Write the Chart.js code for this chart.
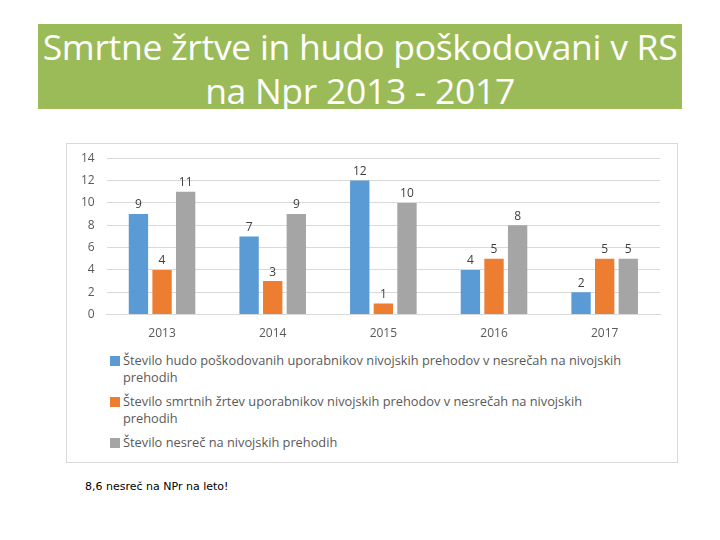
<!DOCTYPE html>
<html>
<head>
<meta charset="utf-8">
<script src="https://cdn.jsdelivr.net/npm/chart.js@4"></script>
<style>
  body { margin: 0; width: 720px; height: 540px; background: #fff; position: relative; font-family: "Open Sans", sans-serif; }
  #title { position: absolute; left: 38px; top: 24px; width: 644px; height: 85px; background: #9bbb59; color: #fff;
    font-family: "Open Sans", sans-serif; font-size: 35.5px; line-height: 44px; text-align: center; padding-top: 0; box-sizing: border-box; letter-spacing: -0.3px; white-space: nowrap; }
  #box { position: absolute; left: 66px; top: 143px; width: 612px; height: 320px; border: 1px solid #d9d9d9; box-sizing: border-box; }
  #wrap { position: absolute; left: 0; top: -5px; width: 610px; height: 206px; }
  #legend { position: absolute; left: 43px; top: 208px; width: 518px; font-size: 12.8px; color: #595959; line-height: 17px; }
  .item { position: relative; padding-left: 13px; margin-bottom: 7px; }
  .sw { position: absolute; left: 0; top: 4px; width: 10px; height: 10px; }
  #note { position: absolute; left: 85px; top: 480px; font-family: "DejaVu Sans", sans-serif; font-size: 11px; color: #000; }
</style>
</head>
<body>
<div id="title">Smrtne žrtve in hudo poškodovani v RS<br>na Npr 2013 - 2017</div>
<div id="box">
  <div id="wrap"><canvas id="chart"></canvas></div>
  <div id="legend"></div>
</div>
<div id="note">8,6 nesreč na NPr na leto!</div>
<script>
const years = ["2013", "2014", "2015", "2016", "2017"];
const injured = [9, 7, 12, 4, 2];
const killed = [4, 3, 1, 5, 5];
const accidents = [11, 9, 10, 8, 5];
const seriesNames = [
  "Število hudo poškodovanih uporabnikov nivojskih prehodov v nesrečah na nivojskih prehodih",
  "Število smrtnih žrtev uporabnikov nivojskih prehodov v nesrečah na nivojskih prehodih",
  "Število nesreč na nivojskih prehodih"
];
const yTicks = [0, 2, 4, 6, 8, 10, 12, 14];
const colors = ["#5b9bd5", "#ed7d31", "#a5a5a5"];

// values above the bars
const barValues = {
  id: "barValues",
  afterDatasetsDraw(chart) {
    const ctx = chart.ctx;
    ctx.save();
    ctx.font = "12px 'Open Sans', sans-serif";
    ctx.fillStyle = "#404040";
    ctx.textAlign = "center";
    ctx.textBaseline = "bottom";
    chart.data.datasets.forEach((ds, i) => {
      chart.getDatasetMeta(i).data.forEach((bar, j) => {
        ctx.fillText(ds.data[j], bar.x, bar.y - 3);
      });
    });
    ctx.restore();
  }
};

const chart = new Chart(document.getElementById("chart"), {
  type: "bar",
  data: {
    labels: years,
    datasets: [injured, killed, accidents].map((d, i) => ({
      label: seriesNames[i],
      data: d,
      backgroundColor: colors[i],
      barPercentage: 0.82,
      categoryPercentage: 0.64
    }))
  },
  options: {
    responsive: true,
    maintainAspectRatio: false,
    animation: false,
    layout: { padding: { left: 2, right: 17, top: 7, bottom: 0 } },
    plugins: { legend: { display: false }, tooltip: { enabled: false } },
    scales: {
      x: {
        grid: { display: false },
        border: { color: "#d9d9d9" },
        ticks: { color: "#595959", font: { size: 12, family: "'Open Sans', sans-serif" }, padding: 4 }
      },
      y: {
        min: 0, max: 14,
        afterBuildTicks: (axis) => { axis.ticks = yTicks.map(v => ({ value: v })); },
        grid: { color: "#d9d9d9", drawTicks: false },
        border: { display: false },
        ticks: { color: "#595959", font: { size: 12, family: "'Open Sans', sans-serif" }, padding: 12 }
      }
    }
  },
  plugins: [barValues]
});

// legend built from the datasets
const legend = document.getElementById("legend");
chart.data.datasets.forEach(ds => {
  const item = document.createElement("div");
  item.className = "item";
  item.innerHTML = '<span class="sw" style="background:' + ds.backgroundColor + '"></span>' + ds.label;
  legend.appendChild(item);
});
</script>
</body>
</html>
